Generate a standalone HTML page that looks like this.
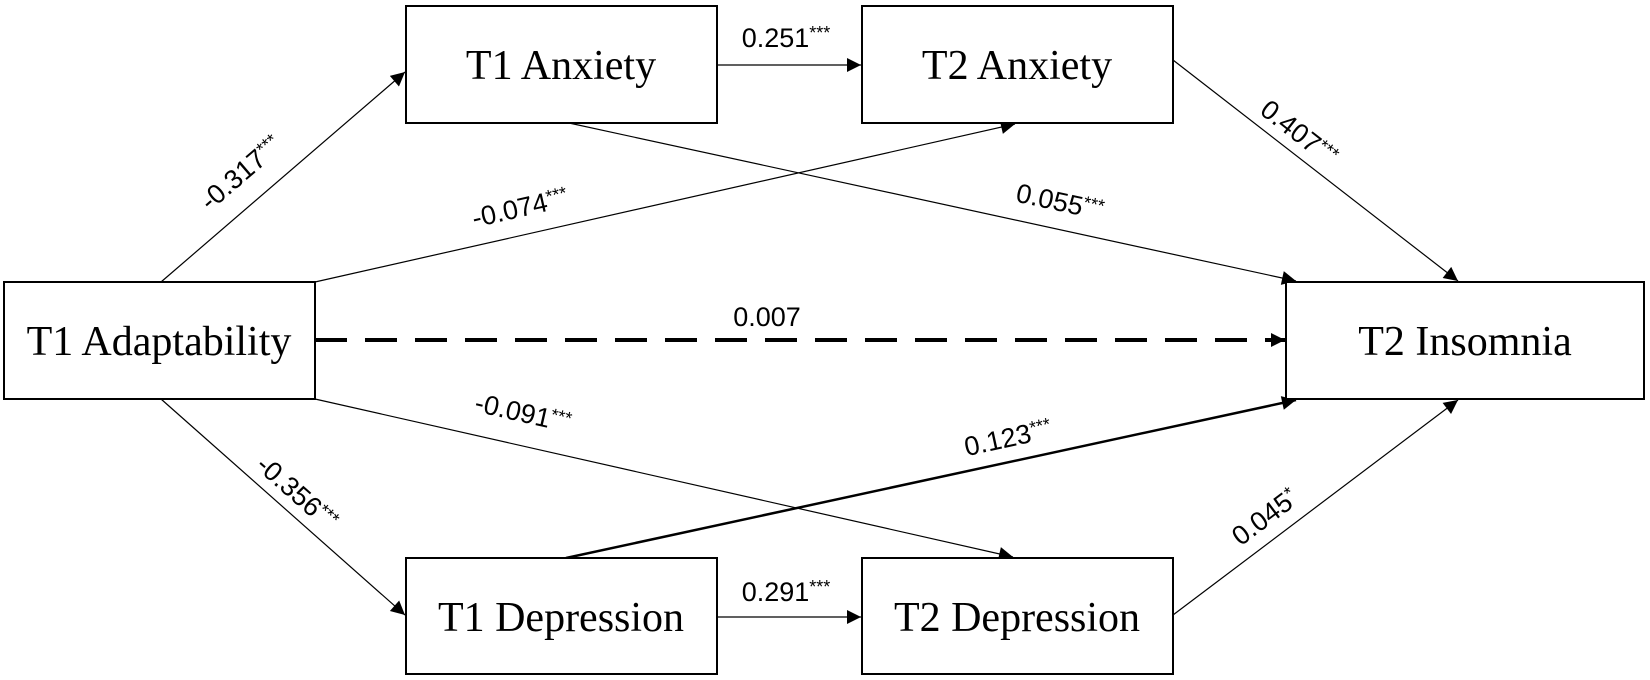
<!DOCTYPE html>
<html><head><meta charset="utf-8"><style>
html,body{margin:0;padding:0;background:#fff;}
svg{display:block;}
.b{fill:#fff;stroke:#000;stroke-width:2;}
.t{font-family:"Liberation Serif",serif;font-size:42px;text-anchor:middle;dominant-baseline:central;}
.l{font-family:"Liberation Sans",sans-serif;font-size:27px;text-anchor:middle;dominant-baseline:central;}
.s{font-size:18px;baseline-shift:30%;}
.ln{stroke:#000;stroke-width:1.2;fill:none;}
</style></head><body>
<svg width="1650" height="680" viewBox="0 0 1650 680" xmlns="http://www.w3.org/2000/svg">
<defs>
<marker id="a" viewBox="0 0 10 10" refX="10" refY="5" markerWidth="18" markerHeight="14" markerUnits="userSpaceOnUse" orient="auto"><path d="M0,0L10,5L0,10z" fill="#000"/></marker>
</defs>
<!-- connectors -->
<line class="ln" x1="161" y1="282" x2="405" y2="72" marker-end="url(#a)"/>
<line class="ln" x1="717" y1="65" x2="861" y2="65" marker-end="url(#a)"/>
<line class="ln" x1="315" y1="282" x2="1015" y2="124" marker-end="url(#a)"/>
<line class="ln" x1="569" y1="123" x2="1296" y2="281" marker-end="url(#a)"/>
<line class="ln" x1="1173" y1="60" x2="1458" y2="281" marker-end="url(#a)"/>
<line x1="315" y1="340" x2="1285" y2="340" stroke="#000" stroke-width="4" stroke-dasharray="32 18" marker-end="url(#a)"/>
<line class="ln" x1="315" y1="399" x2="1013" y2="557" marker-end="url(#a)"/>
<line class="ln" x1="161" y1="399" x2="405" y2="615" marker-end="url(#a)"/>
<line x1="566" y1="558" x2="1296" y2="400" stroke="#000" stroke-width="2.5" marker-end="url(#a)"/>
<line class="ln" x1="1173" y1="615" x2="1458" y2="400" marker-end="url(#a)"/>
<line class="ln" x1="717" y1="617" x2="861" y2="617" marker-end="url(#a)"/>
<!-- boxes -->
<rect class="b" x="406" y="6" width="311" height="117"/>
<rect class="b" x="862" y="6" width="311" height="117"/>
<rect class="b" x="4" y="282" width="311" height="117"/>
<rect class="b" x="1286" y="282" width="358" height="117"/>
<rect class="b" x="406" y="558" width="311" height="116"/>
<rect class="b" x="862" y="558" width="311" height="116"/>
<text class="t" x="561" y="66">T1 Anxiety</text>
<text class="t" x="1017" y="66">T2 Anxiety</text>
<text class="t" x="159" y="342">T1 Adaptability</text>
<text class="t" x="1465" y="342">T2 Insomnia</text>
<text class="t" x="561" y="618">T1 Depression</text>
<text class="t" x="1017" y="618">T2 Depression</text>
<!-- labels -->
<text class="l" x="786" y="38">0.251<tspan class="s">***</tspan></text>
<text class="l" x="786" y="592">0.291<tspan class="s">***</tspan></text>
<text class="l" x="767" y="317">0.007</text>
<text class="l" transform="translate(241,173) rotate(-40.6)">-0.317<tspan class="s">***</tspan></text>
<text class="l" transform="translate(520,208) rotate(-12.8)">-0.074<tspan class="s">***</tspan></text>
<text class="l" transform="translate(1060,202) rotate(12.3)">0.055<tspan class="s">***</tspan></text>
<text class="l" transform="translate(1299,133) rotate(38)">0.407<tspan class="s">***</tspan></text>
<text class="l" transform="translate(523,413) rotate(12.8)">-0.091<tspan class="s">***</tspan></text>
<text class="l" transform="translate(1008,438) rotate(-12.3)">0.123<tspan class="s">***</tspan></text>
<text class="l" transform="translate(297,493) rotate(41.4)">-0.356<tspan class="s">***</tspan></text>
<text class="l" transform="translate(1265,517) rotate(-37)">0.045<tspan class="s">*</tspan></text>
</svg>
</body></html>
